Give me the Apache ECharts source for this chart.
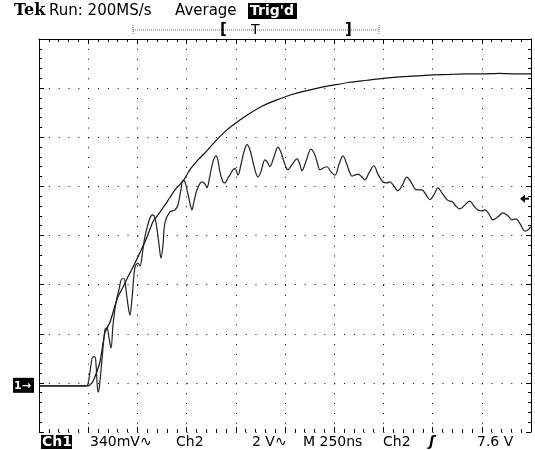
<!DOCTYPE html>
<html>
<head>
<meta charset="utf-8">
<script src="https://cdn.jsdelivr.net/npm/echarts@6/dist/echarts.min.js"></script>
<style>
  html, body { margin: 0; padding: 0; background: #fff; }
  #main { width: 535px; height: 450px; }
</style>
</head>
<body>
<div id="main"></div>
<script>
// time in ns (250 ns/div), level in screen divisions
var timeTicks = [0, 250, 500, 750, 1000, 1250, 1500, 1750, 2000, 2250, 2500];
var levelTicks = [0, 1, 2, 3, 4, 5, 6, 7, 8];
var groundLevel = 0.94;
var trigLevel = 4.75;

// averaged (smooth) trace
var avgTrace = [
  [0,0.94],[249,0.94],[269,1.00],[284,1.12],[310,1.43],[335,2.02],[361,2.24],[386,2.57],
  [401,2.75],[427,2.95],[447,3.12],[478,3.36],[513,3.65],[549,3.97],[579,4.28],[605,4.42],
  [650,4.68],[691,4.93],[732,5.11],[767,5.34],[808,5.54],[843,5.68],[904,5.95],[955,6.15],
  [1021,6.35],[1072,6.49],[1138,6.64],[1209,6.76],[1285,6.87],[1361,6.95],[1427,7.01],
  [1494,7.06],[1580,7.12],[1666,7.16],[1748,7.20],[1834,7.23],[1920,7.25],[2002,7.27],
  [2088,7.28],[2174,7.29],[2256,7.29],[2342,7.30],[2418,7.29],[2500,7.29]
];

// ringing trace
var ringTrace = [
  [0,0.94],[239,0.94],[249,0.98],[264,1.36],[274,1.53],[284,1.53],[290,1.36],[300,0.81],
  [305,0.86],[320,1.47],[335,2.08],[345,2.12],[356,1.91],[366,1.71],[376,2.18],[391,2.63],
  [406,2.89],[422,3.12],[432,3.12],[442,2.89],[452,2.59],[462,2.38],[472,2.69],[488,3.36],
  [503,3.44],[513,3.38],[528,3.71],[538,3.97],[564,4.36],[579,4.42],[589,4.36],[599,4.15],
  [610,3.81],[620,3.54],[630,3.81],[640,4.26],[665,4.48],[691,4.52],[706,4.62],[721,4.93],
  [732,5.13],[742,5.09],[752,4.93],[767,4.66],[777,4.52],[787,4.68],[803,4.93],[828,5.09],
  [843,5.05],[853,4.97],[869,5.23],[884,5.50],[899,5.62],[909,5.54],[919,5.30],[935,5.09],
  [945,5.07],[960,5.17],[970,5.23],[986,5.34],[996,5.36],[1011,5.23],[1026,5.44],[1041,5.70],
  [1057,5.85],[1072,5.74],[1087,5.50],[1102,5.27],[1113,5.19],[1128,5.30],[1148,5.54],
  [1163,5.48],[1173,5.40],[1194,5.60],[1214,5.80],[1229,5.70],[1245,5.50],[1265,5.34],
  [1285,5.44],[1311,5.56],[1326,5.44],[1336,5.32],[1356,5.50],[1382,5.76],[1402,5.64],
  [1417,5.44],[1427,5.34],[1448,5.38],[1463,5.40],[1483,5.30],[1504,5.23],[1524,5.44],
  [1544,5.62],[1565,5.44],[1580,5.27],[1590,5.21],[1605,5.23],[1621,5.25],[1641,5.19],
  [1656,5.13],[1676,5.27],[1702,5.42],[1722,5.25],[1748,5.09],[1768,5.07],[1783,5.09],
  [1803,5.01],[1824,4.91],[1844,5.01],[1869,5.19],[1890,5.09],[1910,4.95],[1925,4.93],
  [1946,4.93],[1966,4.83],[1986,4.73],[2007,4.83],[2027,4.97],[2047,4.87],[2073,4.73],
  [2088,4.70],[2103,4.68],[2118,4.60],[2139,4.54],[2164,4.62],[2189,4.70],[2210,4.60],
  [2230,4.52],[2250,4.50],[2266,4.52],[2286,4.44],[2306,4.32],[2332,4.38],[2357,4.46],
  [2383,4.40],[2403,4.32],[2423,4.34],[2444,4.24],[2469,4.09],[2484,4.11],[2500,4.18]
];

var headerTexts = ['Run: 200MS/s', 'Average'];
var footerTexts = ['340mV\u223F', 'Ch2', '2 V\u223F', 'M 250ns', 'Ch2', '\u0283', '7.6 V'];

var FONT = '"DejaVu Sans", sans-serif';
var dots = [1, 8.84];

var myChart = echarts.init(document.getElementById('main'));

function borderAxis(extra) {
  var base = {
    type: 'value',
    axisLine: { show: true, onZero: false, lineStyle: { color: '#000', width: 1 } },
    axisTick: { show: true, inside: true, length: 5, lineStyle: { color: '#000' } },
    minorTick: { show: true, splitNumber: 5, length: 3, lineStyle: { color: '#000' } },
    axisLabel: { show: false },
    splitLine: { show: false }
  };
  return Object.assign(base, extra);
}

var option = {
  animation: false,
  grid: { left: 39, right: 4, top: 39, bottom: 18, show: false },
  xAxis: [
    borderAxis({
      min: timeTicks[0], max: timeTicks[timeTicks.length - 1], interval: 250,
      position: 'bottom',
      axisLine: { show: false, onZero: false },
      splitLine: { show: true, lineStyle: { color: '#000', width: 1, type: dots } }
    }),
    borderAxis({
      min: timeTicks[0], max: timeTicks[timeTicks.length - 1], interval: 250,
      position: 'top'
    })
  ],
  yAxis: [
    borderAxis({
      min: levelTicks[0], max: levelTicks[levelTicks.length - 1], interval: 1,
      position: 'left',
      splitLine: { show: true, lineStyle: { color: '#000', width: 1, type: dots } }
    }),
    borderAxis({
      min: levelTicks[0], max: levelTicks[levelTicks.length - 1], interval: 1,
      position: 'right'
    })
  ],
  series: [
    {
      name: 'Average',
      type: 'line',
      data: avgTrace,
      showSymbol: false,
      smooth: 0.2,
      lineStyle: { color: '#111', width: 1.2 }
    },
    {
      name: 'Ringing',
      type: 'line',
      data: ringTrace,
      showSymbol: false,
      smooth: 0.35,
      lineStyle: { color: '#222', width: 1.2 }
    }
  ]
};

myChart.setOption(option);

// screen annotations
var gy = myChart.convertToPixel({ yAxisIndex: 0 }, groundLevel);
var ty = myChart.convertToPixel({ yAxisIndex: 0 }, trigLevel);
var footX = [90, 176, 252, 303, 383, 429, 477];

var graphics = [
  { type: 'text', x: 14, y: 11, style: { text: 'Tek', font: 'bold 16px "DejaVu Serif", serif', fill: '#000', verticalAlign: 'middle' } },
  { type: 'text', x: 49, y: 11, style: { text: headerTexts[0], font: '15px ' + FONT, fill: '#000', verticalAlign: 'middle' } },
  { type: 'text', x: 175, y: 11, style: { text: headerTexts[1], font: '15px ' + FONT, fill: '#000', verticalAlign: 'middle' } },
  { type: 'rect', shape: { x: 248, y: 3, width: 49, height: 16 }, style: { fill: '#000' } },
  { type: 'text', x: 250, y: 11, style: { text: "Trig'd", font: 'bold 14px ' + FONT, fill: '#fff', verticalAlign: 'middle' } },
  // record position bar
  { type: 'line', shape: { x1: 133, y1: 30, x2: 379, y2: 30 }, style: { stroke: '#666', lineWidth: 1, lineDash: [1, 1] } },
  { type: 'line', shape: { x1: 133, y1: 25, x2: 133, y2: 35 }, style: { stroke: '#666', lineWidth: 1, lineDash: [1, 1] } },
  { type: 'line', shape: { x1: 379, y1: 25, x2: 379, y2: 35 }, style: { stroke: '#666', lineWidth: 1, lineDash: [1, 1] } },
  { type: 'text', x: 220, y: 30, style: { text: '[', font: 'bold 15px ' + FONT, fill: '#000', verticalAlign: 'middle' } },
  { type: 'text', x: 251, y: 30, style: { text: 'T', font: '14px ' + FONT, fill: '#000', verticalAlign: 'middle' } },
  { type: 'text', x: 345, y: 30, style: { text: ']', font: 'bold 15px ' + FONT, fill: '#000', verticalAlign: 'middle' } },
  // footer
  { type: 'rect', shape: { x: 41, y: 435, width: 31, height: 14 }, style: { fill: '#000' } },
  { type: 'text', x: 42, y: 442, style: { text: 'Ch1', font: 'bold 14px ' + FONT, fill: '#fff', verticalAlign: 'middle' } },
  // ground marker
  { type: 'rect', shape: { x: 13, y: gy - 8, width: 21, height: 15 }, style: { fill: '#000' } },
  { type: 'text', x: 14, y: gy, style: { text: '1\u2192', font: 'bold 11px ' + FONT, fill: '#fff', verticalAlign: 'middle' } },
  // trigger level arrow
  { type: 'polygon', shape: { points: [[520, ty], [525, ty - 4], [525, ty + 4]] }, style: { fill: '#000' } },
  { type: 'rect', shape: { x: 524, y: ty - 1, width: 5, height: 2 }, style: { fill: '#000' } }
];

footerTexts.forEach(function (t, i) {
  graphics.push({
    type: 'text', x: footX[i], y: 442,
    style: { text: t, font: (t === '\u0283' ? 'bold italic ' : '') + '14px ' + FONT, fill: '#000', verticalAlign: 'middle' }
  });
});

myChart.setOption({ graphic: graphics });
</script>
</body>
</html>
